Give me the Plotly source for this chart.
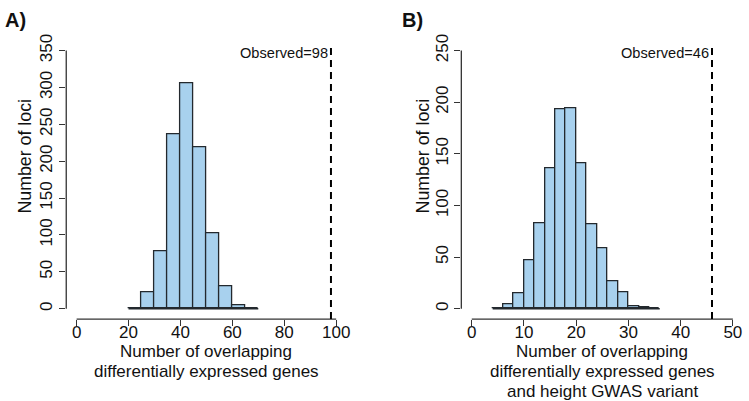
import plotly.graph_objects as go

# ---------------- data ----------------
a_bin_start = 20
a_bin_width = 5
a_counts = [1, 22, 78, 236, 306, 219, 102, 31, 4, 1]
a_observed = 98
a_xticks = [0, 20, 40, 60, 80, 100]
a_yticks = [0, 50, 100, 150, 200, 250, 300, 350]

b_bin_start = 4
b_bin_width = 2
b_counts = [0, 4, 15, 47, 83, 136, 193, 194, 141, 82, 59, 27, 16, 2, 1, 0]
b_observed = 46
b_xticks = [0, 10, 20, 30, 40, 50]
b_yticks = [0, 50, 100, 150, 200, 250]

a_xtitle = ["Number of overlapping", "differentially expressed genes"]
b_xtitle = ["Number of overlapping", "differentially expressed genes", "and height GWAS variant"]
ytitle = "Number of loci"

# ---------------- style ----------------
W, H = 749, 401
FONT = "Liberation Sans, Arial, sans-serif"
BAR_FILL = "#A8D1EE"
EDGE = "#23292e"
AXIS_COL = "#333333"
TXT = "#111111"

fig = go.Figure()

y_top_px, y_bot_px = 34.8, 317.8
ydom = [1 - y_bot_px / H, 1 - y_top_px / H]
a_dom = [66.6 / W, 348.4 / W]
b_dom = [463.8 / W, 747.3 / W]


def add_panel(xa, ya, start, width, counts, observed, xticks, yticks, dom, xtitle, label, label_x, ytitle_x):
    xs = [start + width * (i + 0.5) for i in range(len(counts))]
    fig.add_trace(go.Bar(x=xs, y=counts, width=width,
                         marker=dict(color=BAR_FILL, line=dict(color=EDGE, width=1.3)),
                         xaxis=xa, yaxis=ya, showlegend=False))
    # baseline segment covering all bins (R draws empty bins as a line)
    edges = [start, start + width * len(counts)]
    fig.add_trace(go.Scatter(x=edges, y=[0, 0], mode="lines", line=dict(color=EDGE, width=1.5),
                             xaxis=xa, yaxis=ya, showlegend=False, hoverinfo="skip"))
    xr = [xticks[0] - 0.04 * (xticks[-1] - xticks[0]), xticks[-1] + 0.04 * (xticks[-1] - xticks[0])]
    yr = [yticks[0] - 0.04 * (yticks[-1] - yticks[0]), yticks[-1] + 0.04 * (yticks[-1] - yticks[0])]
    xkey = "xaxis" + xa[1:]
    ykey = "yaxis" + ya[1:]
    fig.update_layout(**{
        xkey: dict(domain=dom, range=xr, anchor=ya, tickvals=xticks, ticks="outside", ticklen=6,
                   tickwidth=1.3, tickcolor=AXIS_COL, showgrid=False, zeroline=False, showline=False,
                   tickfont=dict(size=17, color=TXT), ticklabelstandoff=-8),
        ykey: dict(domain=ydom, range=yr, anchor=xa, tickvals=yticks, ticks="outside", ticklen=6,
                   tickwidth=1.3, tickcolor=AXIS_COL, showgrid=False, zeroline=False, showline=False,
                   tickangle=-90, tickfont=dict(size=17, color=TXT)),
    })
    xref_dom = xa + " domain"
    yref_dom = ya + " domain"
    # axis lines limited to the tick range (R style)
    fig.add_shape(type="line", xref=xa, yref=yref_dom, x0=xticks[0], x1=xticks[-1], y0=0, y1=0,
                  line=dict(color=AXIS_COL, width=1.3))
    fig.add_shape(type="line", xref=xref_dom, yref=ya, x0=0, x1=0, y0=yticks[0], y1=yticks[-1],
                  line=dict(color=AXIS_COL, width=1.3))
    # observed dashed line
    fig.add_shape(type="line", xref=xa, yref=yref_dom, x0=observed, x1=observed, y0=0, y1=0.98,
                  line=dict(color="black", width=2, dash="7px,5px"))
    fig.add_annotation(x=observed, xref=xa, y=1 - 48 / H, yref="paper", text=f"Observed={observed}",
                       showarrow=False, xanchor="right", yanchor="middle", xshift=-1,
                       font=dict(size=14.6, color=TXT))
    # panel label
    fig.add_annotation(x=label_x / W, xref="paper", y=1 - 14 / H, yref="paper", text=f"<b>{label}</b>",
                       showarrow=False, xanchor="center", yanchor="middle", font=dict(size=20, color=TXT))
    # x axis title lines
    xmid = (xticks[0] + xticks[-1]) / 2
    for i, line in enumerate(xtitle):
        fig.add_annotation(x=xmid, xref=xa, y=1 - (351 + 20 * i) / H, yref="paper", text=line,
                           showarrow=False, xanchor="center", yanchor="middle",
                           font=dict(size=17, color=TXT))
    # y axis title
    fig.add_annotation(x=ytitle_x / W, xref="paper", y=1 - 152 / H, yref="paper", text=ytitle,
                       textangle=-90, showarrow=False, xanchor="center", yanchor="middle",
                       font=dict(size=17.8, color=TXT))


add_panel("x", "y", a_bin_start, a_bin_width, a_counts, a_observed, a_xticks, a_yticks, a_dom,
          a_xtitle, "A)", 16, 25)
add_panel("x2", "y2", b_bin_start, b_bin_width, b_counts, b_observed, b_xticks, b_yticks, b_dom,
          b_xtitle, "B)", 415, 425)

fig.update_layout(width=W, height=H, margin=dict(l=0, r=0, t=0, b=0), paper_bgcolor="white",
                  plot_bgcolor="white", font=dict(family=FONT), bargap=0)

fig.write_html("out.html", config={"displayModeBar": False},
               post_script="document.body.style.margin='0';document.body.style.padding='0';"
                           "document.body.style.overflow='hidden';")
